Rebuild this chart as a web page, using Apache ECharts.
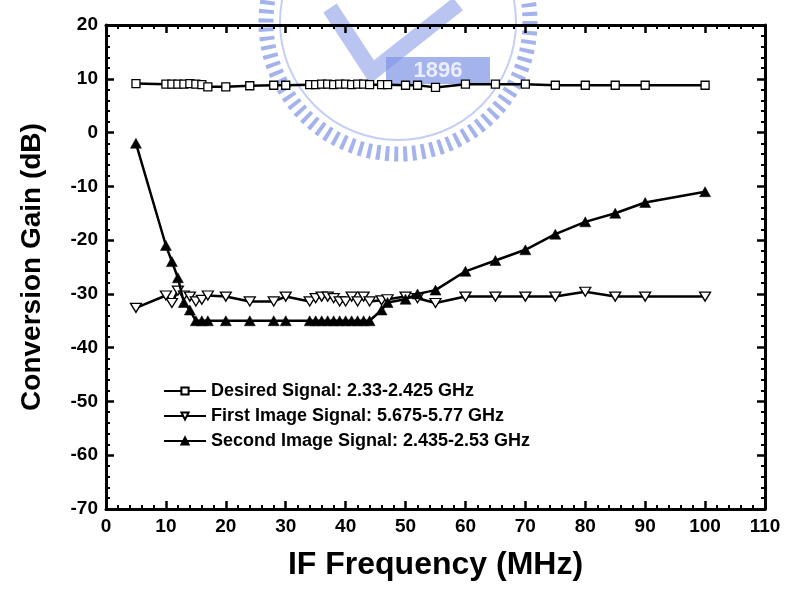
<!DOCTYPE html>
<html>
<head>
<meta charset="utf-8">
<title>Conversion Gain vs IF Frequency</title>
<script src="https://cdn.jsdelivr.net/npm/echarts@6/dist/echarts.min.js"></script>
<style>
  html, body { margin: 0; padding: 0; background: #fff; }
  #chart { width: 787px; height: 601px; }
</style>
</head>
<body>
<div id="chart"></div>
<script>
// IF frequencies (MHz) at which the three signals were measured
const ifFreq = [5, 10, 11, 12, 13, 14, 15, 16, 17, 20, 24, 28, 30,
  34, 35, 36, 37, 38, 39, 40, 41, 42, 43, 44, 46, 47,
  50, 52, 55, 60, 65, 70, 75, 80, 85, 90, 100];

// Conversion gain (dB) of each signal
const desiredGain = [9.1, 9.0, 9.0, 9.0, 9.0, 9.1, 9.0, 8.9, 8.5, 8.5, 8.7, 8.8, 8.8,
  8.9, 8.9, 9.0, 9.0, 8.9, 9.0, 9.0, 8.9, 9.0, 9.0, 8.9, 8.9, 8.9,
  8.8, 8.8, 8.4, 9.0, 9.0, 9.0, 8.8, 8.8, 8.8, 8.8, 8.8];

const firstImageGain = [-32.6, -30.3, -31.7, -29.4, -30.3, -30.5, -31.4, -31.1, -30.3, -30.5, -31.4, -31.4, -30.5,
  -31.4, -30.8, -30.5, -30.5, -30.8, -31.4, -31.4, -30.5, -31.4, -30.5, -31.4, -31.2, -31.0,
  -30.5, -30.8, -31.7, -30.5, -30.5, -30.5, -30.5, -29.6, -30.5, -30.5, -30.5];

const secondImageGain = [-2.0, -21.0, -24.0, -27.0, -31.6, -33.0, -35.0, -35.0, -35.0, -35.0, -35.0, -35.0, -35.0,
  -35.0, -35.0, -35.0, -35.0, -35.0, -35.0, -35.0, -35.0, -35.0, -35.0, -35.0, -33.0, -31.6,
  -31.0, -30.0, -29.3, -25.8, -23.8, -21.8, -18.9, -16.6, -15.0, -13.0, -11.0];

const seriesNames = [
  'Desired Signal: 2.33-2.425 GHz',
  'First Image Signal: 5.675-5.77 GHz',
  'Second Image Signal: 2.435-2.53 GHz'
];

const xTitle = 'IF Frequency (MHz)';
const yTitle = 'Conversion Gain (dB)';

const FONT = "'Liberation Sans', Arial, sans-serif";
const INK = '#000';
const SEAL = '#7f93e6';

const pairs = vals => ifFreq.map((f, i) => [f, vals[i]]);

// Shared frame styling: thick black box with inward-pointing major/minor ticks
function frameAxis(extra) {
  return Object.assign({
    type: 'value',
    axisLine: { show: true, onZero: false, lineStyle: { color: INK, width: 3 } },
    axisTick: { show: true, inside: true, length: 8, lineStyle: { color: INK, width: 2.5 } },
    minorTick: { show: true, splitNumber: 5, length: 4, lineStyle: { color: INK, width: 2 } },
    splitLine: { show: false },
    minorSplitLine: { show: false },
    axisLabel: { show: false }
  }, extra);
}

const tickLabel = { show: true, color: INK, fontSize: 19, fontWeight: 'bold', fontFamily: FONT, margin: 8 };

const chart = echarts.init(document.getElementById('chart'), null, { renderer: 'canvas' });

chart.setOption({
  animation: false,
  backgroundColor: '#fff',
  grid: { left: 106, right: 22, top: 25, bottom: 92, containLabel: false },
  // faint university seal watermark behind the plot
  graphic: [{
    type: 'group',
    silent: true,
    z: -10,
    children: [
      { type: 'circle', shape: { cx: 398, cy: 22, r: 132 },
        style: { fill: 'none', stroke: SEAL, lineWidth: 15, lineDash: [4, 5], opacity: 0.7 } },
      { type: 'circle', shape: { cx: 398, cy: 22, r: 118 },
        style: { fill: 'none', stroke: SEAL, lineWidth: 2, opacity: 0.45 } },
      { type: 'polyline', shape: { points: [[330, 8], [372, 72], [458, 4]] },
        style: { fill: 'none', stroke: SEAL, lineWidth: 16, opacity: 0.55 } },
      { type: 'rect', shape: { x: 386, y: 57, width: 104, height: 27 },
        style: { fill: SEAL, opacity: 0.7 } },
      { type: 'text', style: { x: 438, y: 71, text: '1896', fill: '#e9edfc',
        font: "bold 22px 'Liberation Sans', Arial, sans-serif", align: 'center', verticalAlign: 'middle' } }
    ]
  }],
  legend: {
    orient: 'vertical',
    left: 158,
    top: 377,
    itemWidth: 42,
    itemHeight: 9,
    itemGap: 7,
    selectedMode: false,
    data: seriesNames,
    textStyle: { color: INK, fontSize: 18, fontWeight: 'bold', fontFamily: FONT }
  },
  xAxis: [
    frameAxis({
      position: 'bottom', min: 0, max: 110, interval: 10,
      axisLabel: tickLabel,
      name: xTitle, nameLocation: 'middle', nameGap: 40,
      nameTextStyle: { color: INK, fontSize: 32, fontWeight: 'bold', fontFamily: FONT }
    }),
    frameAxis({ position: 'top', min: 0, max: 110, interval: 10 })
  ],
  yAxis: [
    frameAxis({
      position: 'left', min: -70, max: 20, interval: 10,
      axisLabel: tickLabel,
      name: yTitle, nameLocation: 'middle', nameGap: 60,
      nameTextStyle: { color: INK, fontSize: 28, fontWeight: 'bold', fontFamily: FONT }
    }),
    frameAxis({ position: 'right', min: -70, max: 20, interval: 10 })
  ],
  series: [
    {
      type: 'line', name: seriesNames[0], data: pairs(desiredGain),
      symbol: 'rect', symbolSize: 8, showAllSymbol: true,
      itemStyle: { color: '#fff', borderColor: INK, borderWidth: 1.3 },
      lineStyle: { color: INK, width: 2.5 },
      emphasis: { disabled: true }, z: 3
    },
    {
      type: 'line', name: seriesNames[1], data: pairs(firstImageGain),
      symbol: 'path://M0,0L20,0L10,17Z', symbolSize: [11, 9], showAllSymbol: true,
      itemStyle: { color: '#fff', borderColor: INK, borderWidth: 1.3 },
      lineStyle: { color: INK, width: 2.5 },
      emphasis: { disabled: true }, z: 4
    },
    {
      type: 'line', name: seriesNames[2], data: pairs(secondImageGain),
      symbol: 'triangle', symbolSize: [11, 10], showAllSymbol: true,
      itemStyle: { color: INK, borderColor: INK, borderWidth: 0.5 },
      lineStyle: { color: INK, width: 2.5 },
      emphasis: { disabled: true }, z: 5
    }
  ]
});
</script>
</body>
</html>
